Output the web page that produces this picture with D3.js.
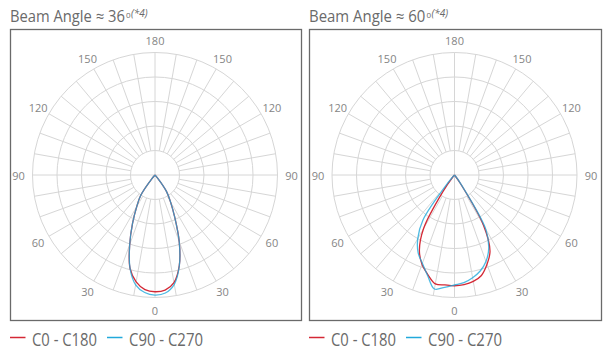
<!DOCTYPE html>
<html><head><meta charset="utf-8">
<script src="https://cdn.jsdelivr.net/npm/d3@7"></script>
<style>body{margin:0;background:#fff} svg{display:block} text{font-family:"Open Sans",sans-serif}</style>
</head><body><svg id="c" width="609" height="356"></svg>
<script>
// gamma angles (deg from nadir) and relative intensity (% of outer ring)
const gammaAngles = [0, 5, 10, 15, 20, 25, 30, 35, 40, 45];
// Beam Angle ≈ 36
const c0_36   = [95.3, 94.3, 89.2, 76.6, 57.8, 38.2, 25.3, 16.3, 3.3, 0];
const c180_36 = [95.3, 93.9, 88.6, 78.8, 60.4, 43.3, 29.8, 20.4, 4.1, 0];
const c90_36  = [98.0, 96.7, 90.6, 76.7, 57.8, 38.2, 25.3, 16.3, 3.3, 0];
const c270_36 = [98.0, 96.3, 91.0, 78.8, 60.4, 43.3, 29.8, 20.4, 4.1, 0];
// Beam Angle ≈ 60
const c0_60   = [90.4, 89.8, 88.2, 84.9, 77.6, 68.6, 47.3, 8.2, 0, 0];
const c180_60 = [90.4, 90.1, 90.2, 84.1, 77.6, 67.8, 50.6, 16.3, 2.4, 0];
const c90_60  = [89.8, 88.2, 85.1, 81.1, 75.1, 66.1, 51.0, 9.8, 1.6, 0];
const c270_60 = [89.8, 92.0, 94.5, 84.9, 76.7, 70.2, 60.0, 45.0, 8.2, 0];

const tickLabels = [0, 30, 60, 90, 120, 150, 180];
const seriesNames = ["C0 - C180", "C90 - C270"];
const titles = ["Beam Angle ≈ 36", "Beam Angle ≈ 60"];
const titleSup = "0";
const titleNote = "(*4)";

const colors = ["#d42835", "#22a9db"];

const panels = [
  {x0: 10, w: 291, cx: 155, title: titles[0], tlen: 115,
   series: [[c180_36, c0_36], [c270_36, c90_36]]},
  {x0: 309, w: 292, cx: 454.5, title: titles[1], tlen: 116.5,
   series: [[c180_60, c0_60], [c270_60, c90_60]]}
];

const svg = d3.select("#c");
const R = 122.5, cy = 175;
const rScale = d3.scaleLinear().domain([0, 100]).range([0, R]);
const rings = [20, 40, 60, 80, 100];
const rad = d => d * Math.PI / 180;

const line = d3.lineRadial()
  .angle(d => d.a).radius(d => rScale(d.v))
  .curve(d3.curveCatmullRom.alpha(0.5));

// text squeezed horizontally to a target width (condensed look)
function fitText(x, y, size, str, width) {
  const t = svg.append("text").attr("font-size", size).attr("fill", "#6a6a6a").text(str);
  const w = t.node().getComputedTextLength();
  t.attr("transform", `translate(${x},${y}) scale(${width / w},1)`);
  return t;
}

panels.forEach(p => {
  // frame
  svg.append("rect").attr("x", p.x0 + 0.5).attr("y", 29.5)
    .attr("width", p.w).attr("height", 291)
    .attr("fill", "none").attr("stroke", "#6a6a6a").attr("stroke-width", 1.3);

  const g = svg.append("g").attr("transform", `translate(${p.cx},${cy})`);
  // rings
  g.selectAll("circle.ring").data(rings).join("circle")
    .attr("r", d => rScale(d)).attr("fill", "none")
    .attr("stroke", "#d6d6d6").attr("stroke-width", 1);
  // spokes
  const spokes = d3.range(0, 360, 10);
  g.selectAll("line.spoke").data(spokes).join("line")
    .attr("x1", d => (d % 90 === 0 ? 0 : rScale(rings[0])) * Math.sin(rad(d)))
    .attr("y1", d => (d % 90 === 0 ? 0 : rScale(rings[0])) * Math.cos(rad(d)))
    .attr("x2", d => R * Math.sin(rad(d)))
    .attr("y2", d => R * Math.cos(rad(d)))
    .attr("stroke", "#d6d6d6").attr("stroke-width", 1);
  // labels
  const lab = [];
  tickLabels.forEach(t => {
    lab.push({t, s: 1});
    if (t !== 0 && t !== 180) lab.push({t, s: -1});
  });
  const rl = R + 12.5;
  g.selectAll("text.lab").data(lab).join("text")
    .attr("x", d => d.s * rl * Math.sin(rad(d.t)) + (d.t === 90 ? d.s * 1.5 : 0))
    .attr("y", d => rl * Math.cos(rad(d.t)))
    .attr("text-anchor", "middle").attr("dominant-baseline", "central")
    .attr("font-size", 11).attr("fill", "#858585")
    .text(d => d.t);

  // curves
  p.series.forEach((pair, si) => {
    const [leftHalf, rightHalf] = pair;
    const pts = [];
    for (let i = gammaAngles.length - 1; i >= 0; i--)
      pts.push({a: Math.PI + rad(gammaAngles[i]), v: leftHalf[i]});
    for (let i = 1; i < gammaAngles.length; i++)
      pts.push({a: Math.PI - rad(gammaAngles[i]), v: rightHalf[i]});
    g.append("path").attr("d", line(pts)).attr("fill", "none")
      .attr("stroke", colors[si]).attr("stroke-width", 1.3)
      .attr("stroke-opacity", si === 1 ? 0.8 : 1)
      .attr("stroke-linejoin", "round");
  });

  // title
  fitText(p.x0, 21.5, 16, p.title, p.tlen);
  svg.append("text").attr("x", p.x0 + p.tlen + 1).attr("y", 17.5)
    .attr("font-size", 8).attr("fill", "#6a6a6a").text(titleSup);
  svg.append("text").attr("x", p.x0 + p.tlen + 6).attr("y", 16.5)
    .attr("font-size", 10).attr("font-style", "italic").attr("fill", "#6a6a6a").text(titleNote);

  // legend
  const lx = [p.x0, p.x0 + 97];
  const tl = [65, 74];
  seriesNames.forEach((n, i) => {
    svg.append("line").attr("x1", lx[i]).attr("x2", lx[i] + 15.5)
      .attr("y1", 337.5).attr("y2", 337.5)
      .attr("stroke", colors[i]).attr("stroke-width", 1.5);
    fitText(lx[i] + 22, 346, 18, n, tl[i]);
  });
});
</script></body></html>
